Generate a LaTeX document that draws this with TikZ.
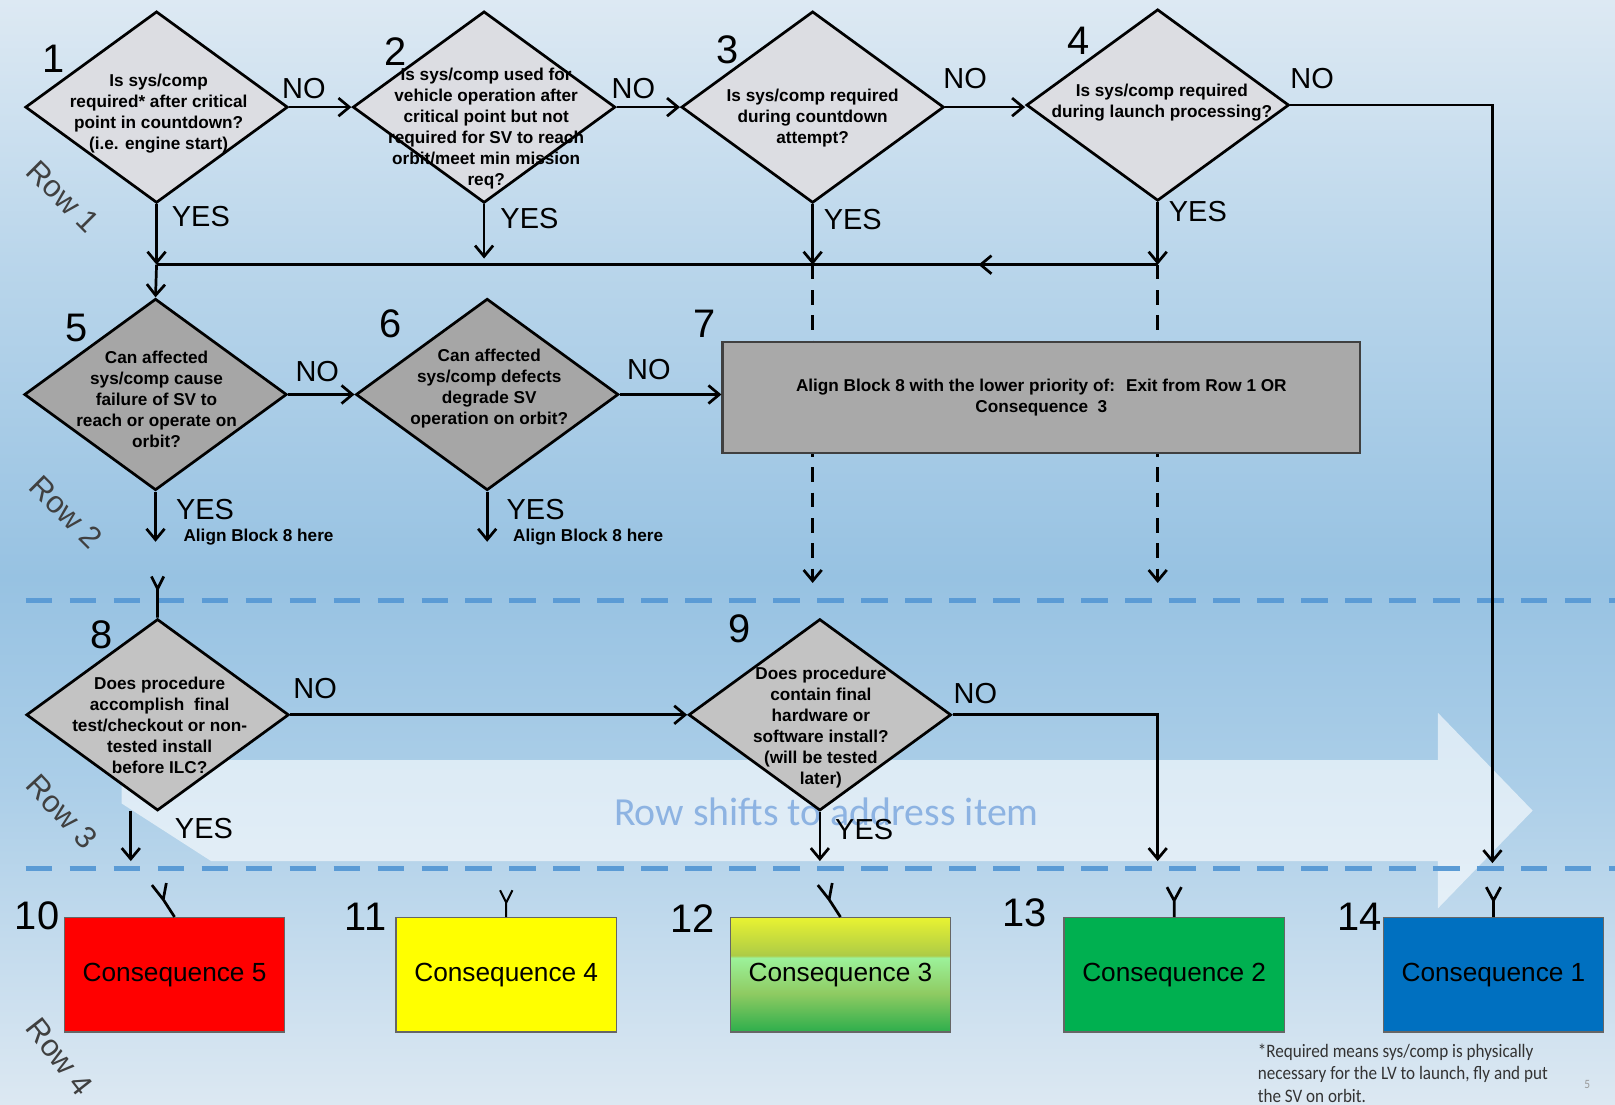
\documentclass[tikz,border=0pt]{standalone}
\usepackage{fontspec}
\setmainfont{Liberation Sans}
\newfontfamily\calfont[FakeStretch=0.9]{Carlito}
\newfontfamily\shiftfont{Carlito}
\usetikzlibrary{shapes.geometric,arrows.meta}

\definecolor{qlight}{HTML}{DCDDE2}
\definecolor{qdark}{HTML}{A6A6A6}
\definecolor{qmid}{HTML}{C3C3C3}
\definecolor{blockgray}{HTML}{A9A9A9}
\definecolor{rowblue}{HTML}{5B9BD5}
\definecolor{shiftblue}{HTML}{8DB3E2}
\definecolor{bgA}{HTML}{DDE9F3}
\definecolor{bgB}{HTML}{BAD6EB}
\definecolor{bgC}{HTML}{97C2E2}
\definecolor{bgD}{HTML}{ABCEE8}
\definecolor{bgE}{HTML}{DCE8F2}
\definecolor{cred}{HTML}{FF0000}
\definecolor{cyellow}{HTML}{FFFF00}
\definecolor{cgreen}{HTML}{00B050}
\definecolor{cblue}{HTML}{0070C0}
\definecolor{cthreeA}{HTML}{2DAE4C}
\definecolor{cthreeB}{HTML}{8FCB62}
\definecolor{cthreeC}{HTML}{9CF29A}
\definecolor{cthreeD}{HTML}{ADCB46}
\definecolor{cthreeE}{HTML}{E8F232}

\pgfdeclareverticalshading{conthree}{100bp}{color(0bp)=(cthreeA); color(25bp)=(cthreeA); color(42bp)=(cthreeB); color(57.5bp)=(cthreeC); color(58.5bp)=(cthreeD); color(75bp)=(cthreeE); color(100bp)=(cthreeE)}

\begin{document}
\begin{tikzpicture}[x=0.02cm, y=-0.02cm, line width=1.5pt,
    >={Straight Barb[length=6pt,width=10pt]},
    qbox/.style={diamond, draw=black, line width=1.5pt, inner sep=0pt, minimum width=5.1cm, minimum height=3.72cm},
    qtext/.style={align=center, font=\fontsize{9.5}{11.6}\selectfont\bfseries},
    num/.style={font=\fontsize{22}{22}\selectfont},
    yn/.style={font=\fontsize{16}{16}\selectfont},
    here/.style={font=\fontsize{9.5}{11}\selectfont\bfseries},
    rowlab/.style={font=\fontsize{17}{17}\selectfont, text=black!75},
    rowline/.style={draw=rowblue, line width=2.5pt, dash pattern=on 14.7pt off 9.6pt},
    cbox/.style={draw=black!60, line width=0.8pt, minimum width=4.28cm, minimum height=2.22cm, font=\fontsize{14.5}{16}\selectfont},
    foot/.style={align=left, font=\calfont\fontsize{10.5}{12.5}\selectfont, text=black!80}]

% background
\useasboundingbox (0,0) rectangle (1568,1072);
\shade[top color=bgA, bottom color=bgB] (0,0) rectangle (1568,251);
\shade[top color=bgB, bottom color=bgC] (0,250) rectangle (1568,561);
\shade[top color=bgC, bottom color=bgD] (0,560) rectangle (1568,761);
\shade[top color=bgD, bottom color=bgE] (0,760) rectangle (1568,1072);
\fill[white, opacity=0.6] (118,738) -- (1396,738) -- (1396,692) -- (1488,787) -- (1396,882) -- (1396,836) -- (205,836) -- (118,780) -- cycle;
\node[font=\shiftfont\fontsize{22}{22}\selectfont, text=shiftblue, anchor=west] (shift) at (589,788) {Row shifts to address item};
\draw[rowline] (25,583) -- (1568,583);
\draw[rowline] (25,843) -- (1568,843);

% row labels
\node[rowlab, rotate=-45] (r1) at (61,191) {Row 1};
\node[rowlab, rotate=-45] (r2) at (64,497) {Row 2};
\node[rowlab, rotate=-47] (r3) at (60,788) {Row 3};
\node[rowlab, rotate=-52] (r4) at (58,1026) {Row 4};

% row 1
\node[qbox, fill=qlight] (d1) at (152,104) {};
\node[qbox, fill=qlight] (d2) at (470,104) {};
\node[qbox, fill=qlight] (d3) at (789,104) {};
\node[qbox, fill=qlight] (d4) at (1124,102) {};
\node[qtext] (t1) at (154,110) {Is sys/comp\\required* after critical\\point in countdown?\\(i.e. engine start)};
\node[qtext] (t2) at (472,125) {Is sys/comp used for\\vehicle operation after\\critical point but not\\required for SV to reach\\orbit/meet min mission\\req?};
\node[qtext] (t3) at (789,115) {Is sys/comp required\\during countdown\\attempt?};
\node[qtext] (t4) at (1128,100) {Is sys/comp required\\during launch processing?};
\node[num] (n1) at (52,57) {1};
\node[num] (n2) at (384,50) {2};
\node[num] (n3) at (706,48) {3};
\node[num] (n4) at (1047,40) {4};
\node[yn] (no1) at (295,86) {NO};
\node[yn] (no2) at (615,86) {NO};
\node[yn] (no3) at (937,76) {NO};
\node[yn] (no4) at (1274,76) {NO};
\node[yn] (yes1) at (195,210) {YES};
\node[yn] (yes2) at (514,212) {YES};
\node[yn] (yes3) at (828,213) {YES};
\node[yn] (yes4) at (1163,205) {YES};

\coordinate (j1) at (152,257);
\coordinate (j2) at (470,251);
\coordinate (j3) at (789,257);
\coordinate (j4) at (1124,257);
\coordinate (jm) at (950,257);
\coordinate (e14) at (1449,838);
\coordinate (g3) at (789,566);
\coordinate (g4) at (1124,566);

\draw[->] (d1.east) -- (d2.west);
\draw[->] (d2.east) -- (d3.west);
\draw[->] (d3.east) -- (d3.east -| d4.west);
\draw[->] (d4.east) -| (e14);
\draw[->] (d1.south) -- (j1);
\draw[->] (d2.south) -- (j2);
\draw[->] (d3.south) -- (j3);
\draw[->] (d4.south) -- (j4);
\draw (j4) -- (j1);
\draw[->] (j4) -- (jm);
\draw[->, dash pattern=on 8pt off 6pt] (j3) -- (g3);
\draw[->, dash pattern=on 8pt off 6pt] (j4) -- (g4);

% row 2
\node[qbox, fill=qdark] (d5) at (151,383) {};
\node[qbox, fill=qdark] (d6) at (473,383) {};
\node[qtext] (t5) at (152,388) {Can affected\\sys/comp cause\\failure of SV to\\reach or operate on\\orbit?};
\node[qtext] (t6) at (475,377) {Can affected\\sys/comp defects\\degrade SV\\operation on orbit?};
\node[qtext, draw=black!75, fill=blockgray, line width=1.3pt, minimum width=12.38cm, minimum height=2.16cm] (b7) at (1011,386) {Align Block 8 with the lower priority of:~ Exit from Row 1 OR\\Consequence~ 3};
\node[num] (n5) at (74,318) {5};
\node[num] (n6) at (379,314) {6};
\node[num] (n7) at (684,314) {7};
\node[yn] (no5) at (308,361) {NO};
\node[yn] (no6) at (630,359) {NO};
\node[yn] (yes5) at (199,495) {YES};
\node[yn] (yes6) at (520,495) {YES};
\node[here] (h5) at (251,521) {Align Block 8 here};
\node[here] (h6) at (571,521) {Align Block 8 here};

\coordinate (a5) at (151,526);
\coordinate (a6) at (473,526);
\draw[->] (j1) -- (d5.north);
\draw[->] (d5.east) -- (d6.west);
\draw[->] (d6.east) -- (d6.east -| b7.west);
\draw[->] (d5.south) -- (a5);
\draw[->] (d6.south) -- (a6);

% row 3
\node[qbox, fill=qmid] (d8) at (153,694) {};
\node[qbox, fill=qmid] (d9) at (796,694) {};
\node[qtext] (t8) at (155,704) {Does procedure\\accomplish~ final\\test/checkout or non-\\tested install\\before ILC?};
\node[qtext] (t9) at (797,706) {Does procedure\\contain final\\hardware or\\software install?\\(will be tested\\later)};
\node[num] (n8) at (99,616) {8};
\node[num] (n9) at (718,610) {9};
\node[yn] (no8) at (306,668) {NO};
\node[yn] (no9) at (947,673) {NO};
\node[yn] (yes8) at (198,804) {YES};
\node[yn] (yes9) at (839,805) {YES};

\coordinate (y8a) at (127,787);
\coordinate (y8b) at (127,836);
\coordinate (e12) at (796,836);
\coordinate (e13) at (1124,836);
\draw (d8.north) -- ++(0,-28) -- ++(-6,-12) ++(6,12) -- ++(6,-12);
\draw[->] (d8.east) -- (d9.west);
\draw[->] (y8a) -- (y8b);
\draw[->] (d9.south) -- (e12);
\draw[->] (d9.east) -| (e13);

% row 4
\node[cbox, fill=cred] (c10) at (169.5,946.5) {Consequence 5};
\node[cbox, fill=cyellow] (c11) at (491.5,946.5) {Consequence 4};
\node[cbox, shading=conthree] (c12) at (816,946.5) {Consequence 3};
\node[cbox, fill=cgreen] (c13) at (1140,946.5) {Consequence 2};
\node[cbox, fill=cblue] (c14) at (1450,946.5) {Consequence 1};
\node[num] (n10) at (36,889) {10};
\node[num] (n11) at (355,890) {11};
\node[num] (n12) at (672,892) {12};
\node[num] (n13) at (995,886) {13};
\node[num] (n14) at (1320,890) {14};

\draw (c10.north) -- ++(-11,-17) -- ++(-11,-14) ++(11,14) -- ++(3,-16);
\draw[line width=1.1pt] (c11.north) -- ++(0,-14) -- ++(-6,-12) ++(6,12) -- ++(6,-12);
\draw (c12.north) -- ++(-11,-17) -- ++(-11,-14) ++(11,14) -- ++(3,-16);
\draw (c13.north) -- ++(0,-16) -- ++(-7,-13) ++(7,13) -- ++(7,-13);
\draw (c14.north) -- ++(0,-16) -- ++(-7,-13) ++(7,13) -- ++(7,-13);

\node[foot, anchor=north west] (fn) at (1214,1006) {*Required means sys/comp is physically\\necessary for the LV to launch, fly and put\\the SV on orbit.};
\node[font=\calfont\fontsize{7}{7}\selectfont, text=black!40] (pg) at (1541,1053) {5};
\end{tikzpicture}
\end{document}
